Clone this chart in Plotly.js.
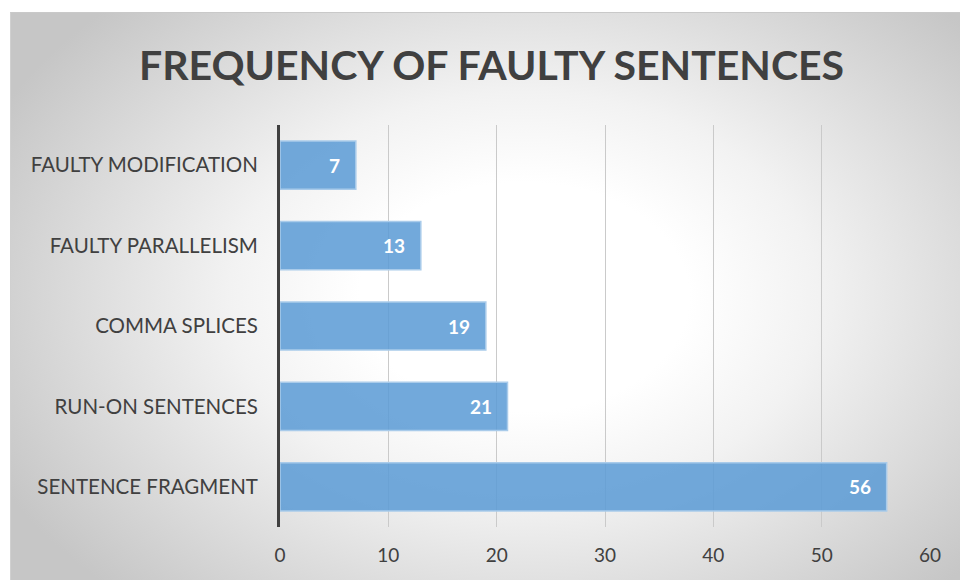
<!DOCTYPE html>
<html>
<head>
<meta charset="utf-8">
<script src="https://cdn.plot.ly/plotly-3.0.1.min.js"></script>
<style>
  html, body { margin:0; padding:0; background:#ffffff; }
  #wrap { position:relative; width:960px; height:580px; overflow:hidden; }
  #bg { position:absolute; left:10px; top:12px; width:950px; height:568px;
        border-top:1px solid #c9c9c9; border-left:1px solid #d0d0d0;
        background: radial-gradient(ellipse 62% 72% at 54% 50%, #ffffff 28%, #f2f2f2 50%, #c6c6c6 100%); }
  #chart { position:absolute; left:0; top:0; width:960px; height:580px; }
</style>
</head>
<body>
<div id="wrap">
  <div id="bg"></div>
  <div id="chart"></div>
</div>
<script>
const categories = ["FAULTY MODIFICATION", "FAULTY PARALLELISM", "COMMA SPLICES", "RUN-ON SENTENCES", "SENTENCE FRAGMENT"];
const values = [7, 13, 19, 21, 56];
const xTicks = [0, 10, 20, 30, 40, 50, 60];
const chartTitle = "FREQUENCY OF FAULTY SENTENCES";

const FONT = "Lato, 'Open Sans', sans-serif";

const trace = {
  type: "bar",
  orientation: "h",
  x: values,
  y: categories,
  marker: { color: "rgba(91,155,213,0.86)", line: { color: "#a9cbea", width: 1.5 } },
  hoverinfo: "none",
  showlegend: false
};

const annotations = values.map((v, i) => ({
  x: v, y: categories[i], xref: "x", yref: "y",
  text: "<b>" + v + "</b>", showarrow: false,
  xanchor: "right", xshift: -14,
  font: { family: FONT, size: 19, color: "#ffffff" }
}));

const layout = {
  width: 960, height: 580,
  paper_bgcolor: "rgba(0,0,0,0)",
  plot_bgcolor: "rgba(0,0,0,0)",
  margin: { l: 280, r: 30, t: 125, b: 53 },
  title: { text: "<b>" + chartTitle + "</b>", x: 0.512, xanchor: "center", y: 0.887, yanchor: "middle",
           font: { family: FONT, size: 41, color: "#404040" } },
  bargap: 0.4,
  xaxis: {
    range: [0, 60], tickvals: xTicks, ticktext: xTicks.map(String),
    showgrid: true, gridcolor: "#cacaca", gridwidth: 1,
    zeroline: false, showline: false, ticks: "",
    ticklabelstandoff: 15,
    tickfont: { family: FONT, size: 19, color: "#404040" },
    fixedrange: true
  },
  yaxis: {
    autorange: "reversed", type: "category",
    showline: true, linecolor: "#404040", linewidth: 3,
    showgrid: false, zeroline: false, ticks: "",
    ticklabelstandoff: 15,
    tickfont: { family: FONT, size: 20.5, color: "#404040" },
    fixedrange: true
  },
  annotations: annotations
};

Plotly.newPlot("chart", [trace], layout, { displayModeBar: false, staticPlot: true });
</script>
</body>
</html>
